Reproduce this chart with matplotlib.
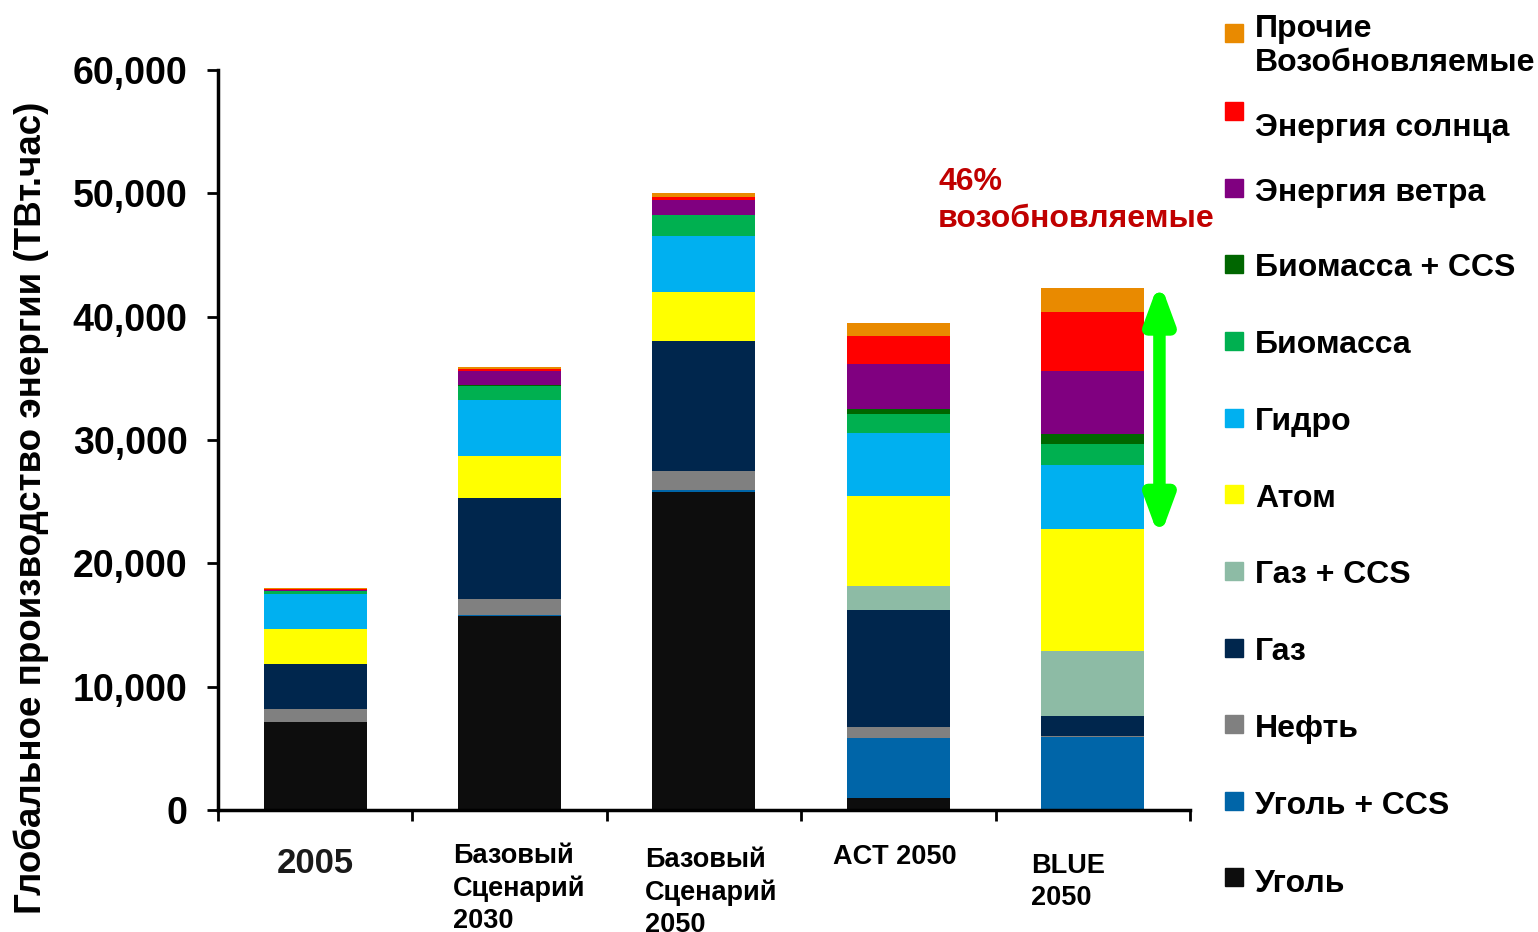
import matplotlib
matplotlib.use("Agg")
import matplotlib.pyplot as plt
from matplotlib.patches import Rectangle
from matplotlib.ticker import FuncFormatter

plt.rcParams["font.family"] = ["Liberation Sans", "DejaVu Sans"]
plt.rcParams["font.weight"] = "bold"

scenarios = ["2005", "Базовый\nСценарий\n2030", "Базовый\nСценарий\n2050", "ACT 2050", "BLUE\n2050"]

sources = ["Уголь", "Уголь + CCS", "Нефть", "Газ", "Газ + CCS", "Атом", "Гидро",
           "Биомасса", "Биомасса + CCS", "Энергия ветра", "Энергия солнца",
           "Прочие\nВозобновляемые"]

colors = ["#0d0d0d", "#0065a8", "#808080", "#00264d", "#8dbba5", "#ffff00", "#00b0f0",
          "#00b050", "#006600", "#800080", "#ff0000", "#e98a00"]

# TWh per source, per scenario (bottom to top)
coal = [7100, 15700, 25800, 950, 0]
coal_ccs = [0, 100, 100, 4860, 5900]
oil = [1100, 1280, 1590, 950, 100]
gas = [3650, 8240, 10540, 9460, 1600]
gas_ccs = [0, 0, 0, 1940, 5300]
nuclear = [2850, 3360, 3970, 7300, 9900]
hydro = [2800, 4590, 4570, 5080, 5200]
biomass = [250, 1100, 1670, 1570, 1700]
biomass_ccs = [0, 80, 0, 400, 800]
wind = [50, 1120, 1220, 3680, 5050]
solar = [80, 150, 220, 2270, 4800]
other = [100, 230, 320, 1000, 2000]

series = [coal, coal_ccs, oil, gas, gas_ccs, nuclear, hydro,
          biomass, biomass_ccs, wind, solar, other]

fig = plt.figure(figsize=(15.38, 9.32), dpi=100)
ax = fig.add_axes([0.1417, 0.131, 0.632, 0.794])

x = list(range(len(scenarios)))
bottom = [0] * len(scenarios)
for vals, col in zip(series, colors):
    ax.bar(x, vals, width=0.53, bottom=bottom, color=col, edgecolor="none")
    bottom = [b + v for b, v in zip(bottom, vals)]

ax.set_xlim(-0.5, 4.5)
ax.set_ylim(0, 60000)
ax.set_yticks(range(0, 60001, 10000))
ax.yaxis.set_major_formatter(FuncFormatter(lambda v, p: f"{int(v):,}"))
ax.tick_params(axis="y", labelsize=27, length=8, width=2, pad=14)
ax.set_xticks([i - 0.5 for i in range(len(scenarios) + 1)])
ax.set_xticklabels([])
ax.tick_params(axis="x", length=8, width=2)
for s in ["top", "right"]:
    ax.spines[s].set_visible(False)
for s in ["left", "bottom"]:
    ax.spines[s].set_linewidth(2.5)

# category labels
xt = ax.get_xaxis_transform()
ax.text(0, -0.072, scenarios[0], transform=xt, ha="center", va="center",
        fontsize=25, color="#1a1a1a")
label_pos = [(1, -0.291, -0.0446), (2, -0.304, -0.0500), (3, -0.337, -0.046), (4, -0.318, -0.0581)]
for i, dx, yy in label_pos:
    ax.text(i + dx, yy, scenarios[i], transform=xt, ha="left", va="top",
            fontsize=19.5, linespacing=1.3)

fig.text(0.020, 0.4555, "Глобальное производство энергии (ТВт.час)", rotation=90,
         ha="center", va="center", fontsize=26.5)

ax.text(3.204, 49400, "46%\nвозобновляемые", color="#c00000", fontsize=23,
        ha="left", va="center", linespacing=1.32)

ax.annotate("", xy=(4.343, 42900), xytext=(4.343, 22000),
            arrowprops=dict(arrowstyle="<|-|>,head_length=2.2,head_width=0.81",
                            color="#00ff00", lw=9, mutation_scale=10,
                            shrinkA=0, shrinkB=0))

# legend (top entry first): square centre and text centre in pixels from top
sq_y = [33, 111, 188, 264, 341, 418, 494, 571, 648, 724, 801, 877]
tx_y = [42, 124, 189, 264, 341, 418, 495, 571, 648, 725, 802, 880]
H = 932.0
for k in range(len(sq_y)):
    idx = len(sources) - 1 - k
    fig.add_artist(Rectangle((1225 / 1538, 1 - (sq_y[k] + 9) / H), 18 / 1538, 18 / H,
                             transform=fig.transFigure, color=colors[idx]))
    fig.text(1255 / 1538, 1 - (tx_y[k] + 4) / H, sources[idx], ha="left", va="center",
             fontsize=23, linespacing=1.17)

fig.savefig("out.png", dpi=100)
